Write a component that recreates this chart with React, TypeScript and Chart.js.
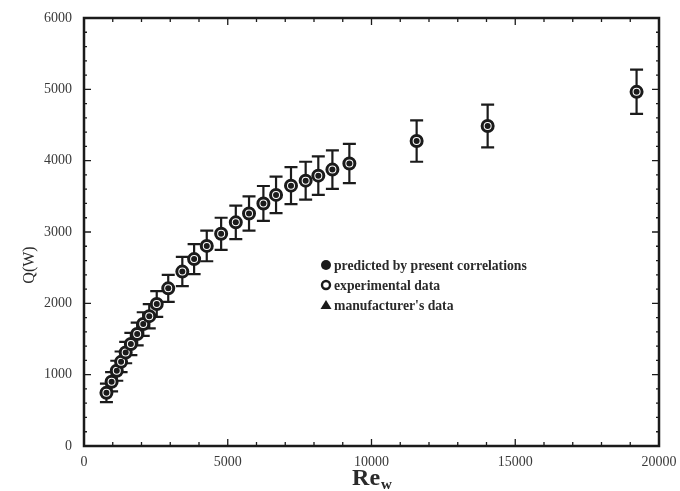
import React, { useEffect, useRef } from 'react';
import { Chart, registerables } from 'chart.js';

Chart.register(...registerables);

// Reynolds number of water (x) for every measured point
const reynolds = [780, 960, 1140, 1290, 1450, 1630, 1850, 2060, 2270, 2530, 2930, 3420, 3830, 4270, 4770, 5280, 5740, 6240, 6680, 7200, 7710, 8150, 8640, 9230, 11570, 14040, 19220];
// Heat transfer rate Q (W)
const qExperimental = [745, 900, 1055, 1180, 1310, 1430, 1570, 1710, 1820, 1990, 2210, 2445, 2620, 2805, 2975, 3135, 3260, 3400, 3520, 3650, 3720, 3790, 3875, 3960, 4275, 4485, 4965];
const qPredicted = [745, 900, 1055, 1180, 1310, 1430, 1570, 1710, 1820, 1990, 2210, 2445, 2620, 2805, 2975, 3135, 3260, 3400, 3520, 3650, 3720, 3790, 3875, 3960, 4275, 4485, 4965];
const qError = [130, 135, 140, 145, 150, 155, 160, 165, 170, 180, 190, 205, 210, 215, 225, 235, 240, 245, 255, 260, 265, 270, 270, 275, 290, 300, 310];
const manufacturerRe: number[] = [];
const manufacturerQ: number[] = [];

const xTickValues = [0, 5000, 10000, 15000, 20000];
const yTickValues = [0, 1000, 2000, 3000, 4000, 5000, 6000];
const seriesLabels = ['predicted by present correlations', 'experimental data', "manufacturer's data"];
const xTitle = 'Re';
const xTitleSub = 'w';
const yTitle = 'Q(W)';

const INK = '#1b1b1b';
const SERIF = '"Liberation Serif", "DejaVu Serif", serif';

const decorPlugin = {
  id: 'decor',
  beforeDatasetsDraw(chart: any) {
    const ctx = chart.ctx;
    const xs = chart.scales.x;
    const ys = chart.scales.y;
    ctx.save();
    ctx.strokeStyle = INK;
    ctx.lineWidth = 2.2;
    for (let i = 0; i < reynolds.length; i++) {
      const px = xs.getPixelForValue(reynolds[i]);
      const top = ys.getPixelForValue(qExperimental[i] + qError[i]);
      const bot = ys.getPixelForValue(qExperimental[i] - qError[i]);
      ctx.beginPath();
      ctx.moveTo(px, top);
      ctx.lineTo(px, bot);
      ctx.moveTo(px - 6.5, top);
      ctx.lineTo(px + 6.5, top);
      ctx.moveTo(px - 6.5, bot);
      ctx.lineTo(px + 6.5, bot);
      ctx.stroke();
    }
    ctx.restore();
  },
  afterDraw(chart: any) {
    const ctx = chart.ctx;
    const a = chart.chartArea;
    const xs = chart.scales.x;
    const ys = chart.scales.y;
    ctx.save();
    ctx.strokeStyle = INK;
    ctx.lineWidth = 2.5;
    ctx.strokeRect(a.left, a.top, a.right - a.left, a.bottom - a.top);
    ctx.lineWidth = 1.3;
    ctx.beginPath();
    for (let v = 0; v <= 20000; v += 1000) {
      const px = xs.getPixelForValue(v);
      const len = v % 5000 === 0 ? 7 : 4;
      ctx.moveTo(px, a.bottom);
      ctx.lineTo(px, a.bottom - len);
      ctx.moveTo(px, a.top);
      ctx.lineTo(px, a.top + len);
    }
    for (let v = 0; v <= 6000; v += 200) {
      const py = ys.getPixelForValue(v);
      const len = v % 1000 === 0 ? 7 : 3;
      ctx.moveTo(a.left, py);
      ctx.lineTo(a.left + len, py);
      ctx.moveTo(a.right, py);
      ctx.lineTo(a.right - len, py);
    }
    ctx.stroke();

    // axis titles
    ctx.fillStyle = '#2a2a2a';
    ctx.font = `16px ${SERIF}`;
    ctx.textAlign = 'center';
    ctx.textBaseline = 'middle';
    ctx.save();
    ctx.translate(30, 265);
    ctx.rotate(-Math.PI / 2);
    ctx.fillText(yTitle, 0, 0);
    ctx.restore();

    ctx.font = `bold 24px ${SERIF}`;
    ctx.textAlign = 'left';
    ctx.textBaseline = 'alphabetic';
    const reW = ctx.measureText(xTitle).width;
    ctx.font = `bold 15px ${SERIF}`;
    const wW = ctx.measureText(xTitleSub).width;
    const startX = (a.left + a.right) / 2 - (reW + wW) / 2;
    ctx.font = `bold 24px ${SERIF}`;
    ctx.fillText(xTitle, startX, 485);
    ctx.font = `bold 15px ${SERIF}`;
    ctx.fillText(xTitleSub, startX + reW + 1, 489);

    // legend
    const lx = 326;
    const rows = [265, 285, 305];
    ctx.font = `bold 13.7px ${SERIF}`;
    ctx.textBaseline = 'middle';
    rows.forEach((ry, i) => {
      ctx.fillStyle = INK;
      ctx.strokeStyle = INK;
      ctx.lineWidth = 2.4;
      ctx.beginPath();
      if (i === 0) {
        ctx.arc(lx, ry, 5, 0, Math.PI * 2);
        ctx.fill();
      } else if (i === 1) {
        ctx.arc(lx, ry, 4, 0, Math.PI * 2);
        ctx.stroke();
      } else {
        ctx.moveTo(lx, ry - 5);
        ctx.lineTo(lx + 5.5, ry + 4);
        ctx.lineTo(lx - 5.5, ry + 4);
        ctx.closePath();
        ctx.fill();
      }
      ctx.fillStyle = '#2a2a2a';
      ctx.fillText(seriesLabels[i], lx + 8, ry + 1);
    });
    ctx.restore();
  },
};

export default function App() {
  const ref = useRef<HTMLCanvasElement | null>(null);
  useEffect(() => {
    if (!ref.current) return;
    const tickFont = { family: SERIF, size: 14 };
    const plain = (v: any) => String(v);
    const chart = new Chart(ref.current, {
      type: 'scatter',
      data: {
        datasets: [
          {
            label: seriesLabels[1],
            data: reynolds.map((r, i) => ({ x: r, y: qExperimental[i] })),
            pointStyle: 'circle',
            pointRadius: 5.5,
            borderWidth: 3,
            borderColor: INK,
            backgroundColor: '#ffffff',
            order: 2,
          },
          {
            label: seriesLabels[0],
            data: reynolds.map((r, i) => ({ x: r, y: qPredicted[i] })),
            pointStyle: 'circle',
            pointRadius: 3,
            borderWidth: 0,
            backgroundColor: INK,
            order: 1,
          },
          {
            label: seriesLabels[2],
            data: manufacturerRe.map((r, i) => ({ x: r, y: manufacturerQ[i] })),
            pointStyle: 'triangle',
            pointRadius: 5,
            backgroundColor: INK,
            order: 0,
          },
        ],
      },
      options: {
        responsive: false,
        animation: false,
        layout: { padding: { left: 0, right: 21, top: 18, bottom: 0 } },
        plugins: { legend: { display: false }, tooltip: { enabled: false } },
        scales: {
          x: {
            type: 'linear',
            min: 0,
            max: 20000,
            afterBuildTicks: (s: any) => { s.ticks = xTickValues.map((v) => ({ value: v })); },
            grid: { display: false, drawTicks: false },
            border: { display: false },
            ticks: { font: tickFont, color: '#3a3a3a', padding: 8, maxRotation: 0, autoSkip: false, callback: plain },
            afterFit: (s: any) => { s.height = 45; s.paddingLeft = 0; s.paddingRight = 0; },
          },
          y: {
            type: 'linear',
            min: 0,
            max: 6000,
            afterBuildTicks: (s: any) => { s.ticks = yTickValues.map((v) => ({ value: v })); },
            grid: { display: false, drawTicks: false },
            border: { display: false },
            ticks: { font: tickFont, color: '#3a3a3a', padding: 12, autoSkip: false, callback: plain },
            afterFit: (s: any) => { s.width = 84; s.paddingTop = 0; s.paddingBottom = 0; },
          },
        },
      },
      plugins: [decorPlugin],
    });
    return () => chart.destroy();
  }, []);
  return (
    <div style={{ position: 'fixed', left: 0, top: 0, width: 680, height: 491, background: '#fff' }}>
      <canvas ref={ref} width={680} height={491} />
    </div>
  );
}
